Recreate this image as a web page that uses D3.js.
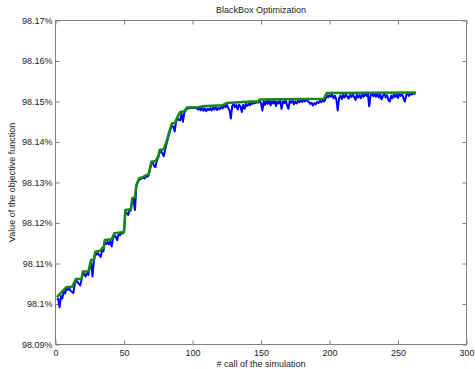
<!DOCTYPE html>
<html>
<head>
<meta charset="utf-8">
<script src="https://cdn.jsdelivr.net/npm/d3@7"></script>
<style>
    html, body { margin: 0; padding: 0; background: #fff; }
    svg { display: block; font-family: "Liberation Sans", Arial, Helvetica, sans-serif; }
    .tick text { fill: #222; font-size: 9px; }
    .tick line { stroke: #808080; }
    .label { fill: #222; font-size: 9px; }
</style>
</head>
<body>
<svg id="chart" width="475" height="369"></svg>
<script>
    // ================================================================
    // Data
    // ================================================================

    var xTicks = [0, 50, 100, 150, 200, 250, 300];
    var yTicks = [98.09, 98.10, 98.11, 98.12, 98.13, 98.14, 98.15, 98.16, 98.17];

    // objective value at each call of the simulation (call 1..263)
    var currentValues = [
        98.1014, 98.1012, 98.0992, 98.1020, 98.1014, 98.1030, 98.1026, 98.1038, 98.1035, 98.1038,
        98.1033, 98.1030, 98.1027, 98.1048, 98.1058, 98.1055, 98.1050, 98.1046, 98.1060, 98.1076,
        98.1074, 98.1068, 98.1077, 98.1072, 98.1090, 98.1105, 98.1068, 98.1105, 98.1125, 98.1122,
        98.1126, 98.1120, 98.1116, 98.1134, 98.1130, 98.1152, 98.1148, 98.1154, 98.1147, 98.1155,
        98.1142, 98.1162, 98.1170, 98.1166, 98.1158, 98.1172, 98.1170, 98.1176, 98.1174, 98.1178,
        98.1228, 98.1225, 98.1220, 98.1230, 98.1231, 98.1255, 98.1258, 98.1232, 98.1290, 98.1300,
        98.1306, 98.1308, 98.1310, 98.1312, 98.1310, 98.1316, 98.1314, 98.1318, 98.1332, 98.1348,
        98.1350, 98.1340, 98.1338, 98.1355, 98.1362, 98.1375, 98.1378, 98.1372, 98.1365, 98.1380,
        98.1395, 98.1408, 98.1420, 98.1432, 98.1440, 98.1438, 98.1426, 98.1450, 98.1458, 98.1455,
        98.1454, 98.1470, 98.1450, 98.1472, 98.1478, 98.1482, 98.1484, 98.1483, 98.1485, 98.1484,
        98.1485, 98.1484, 98.1485, 98.1480, 98.1485, 98.1478, 98.1486, 98.1477, 98.1483, 98.1476,
        98.1482, 98.1479, 98.1484, 98.1478, 98.1485, 98.1480, 98.1486, 98.1479, 98.1484, 98.1481,
        98.1487, 98.1483, 98.1490, 98.1486, 98.1492, 98.1485, 98.1478, 98.1458, 98.1489, 98.1494,
        98.1486, 98.1491, 98.1480, 98.1492, 98.1488, 98.1474, 98.1492, 98.1482, 98.1494, 98.1489,
        98.1495, 98.1491, 98.1497, 98.1494, 98.1498, 98.1496, 98.1499, 98.1497, 98.1502, 98.1496,
        98.1478, 98.1500, 98.1492, 98.1502, 98.1494, 98.1503, 98.1490, 98.1501, 98.1495, 98.1503,
        98.1489, 98.1500, 98.1495, 98.1502, 98.1482, 98.1500, 98.1496, 98.1503, 98.1491, 98.1482,
        98.1501, 98.1497, 98.1503, 98.1493, 98.1500, 98.1495, 98.1502, 98.1498, 98.1504, 98.1499,
        98.1503, 98.1500, 98.1505, 98.1501, 98.1499, 98.1494, 98.1497, 98.1490, 98.1496, 98.1493,
        98.1499, 98.1496, 98.1502, 98.1498, 98.1503, 98.1500, 98.1505, 98.1515, 98.1510, 98.1516,
        98.1512, 98.1517, 98.1508, 98.1514, 98.1505, 98.1478, 98.1508, 98.1515, 98.1506, 98.1517,
        98.1510, 98.1518, 98.1512, 98.1507, 98.1516, 98.1511, 98.1518, 98.1512, 98.1504, 98.1517,
        98.1510, 98.1516, 98.1508, 98.1518, 98.1512, 98.1519, 98.1514, 98.1518, 98.1488, 98.1516,
        98.1519, 98.1513, 98.1518, 98.1512, 98.1519, 98.1510, 98.1517, 98.1505, 98.1514, 98.1519,
        98.1510, 98.1516, 98.1503, 98.1500, 98.1515, 98.1508, 98.1518, 98.1511, 98.1517, 98.1509,
        98.1519, 98.1514, 98.1518, 98.1508, 98.1500, 98.1516, 98.1519, 98.1514, 98.1520, 98.1517,
        98.1521, 98.1519, 98.1521
    ];

    // best value found so far, as the corners of the green curve
    var bestCalls = [1, 8, 12, 15, 19, 20, 24, 26, 28, 29, 33, 34, 35, 36, 41, 43, 50, 51, 55, 56,
        58, 59, 61, 64, 68, 70, 73, 75, 76, 79, 81, 83, 85, 87, 89, 91, 94, 96, 104, 107,
        122, 125, 143, 148, 149, 196, 198, 263];
    var bestValues = [98.1017, 98.1042, 98.1042, 98.1062, 98.1062, 98.1080, 98.1080, 98.1109, 98.1110, 98.1129,
        98.1132, 98.1138, 98.1138, 98.1158, 98.1160, 98.1175, 98.1178, 98.1232, 98.1234, 98.1261,
        98.1263, 98.1294, 98.1310, 98.1314, 98.1321, 98.1351, 98.1353, 98.1365, 98.1380, 98.1382,
        98.1400, 98.1425, 98.1446, 98.1446, 98.1462, 98.1474, 98.1476, 98.1485, 98.1486, 98.1488,
        98.1491, 98.1496, 98.1500, 98.1500, 98.1505, 98.1507, 98.1521, 98.1522];

    // ================================================================
    // Layout
    // ================================================================

    var plotLeft = 55.5, plotRight = 466.5, plotTop = 20.5, plotBottom = 344.5;

    var svg = d3.select('#chart');

    var x = d3.scaleLinear().domain([0, 300]).range([plotLeft, plotRight]);
    var y = d3.scaleLinear().domain([98.09, 98.17]).range([plotBottom, plotTop]);

    var fmtY = d3.format('.4~r');
    function yLabel(v) { return fmtY(v) + '%'; }

    // axes with inward ticks on all four sides
    var axisL = svg.append('g').attr('transform', 'translate(' + plotLeft + ',0)')
        .call(d3.axisLeft(y).tickValues(yTicks).tickSize(-4).tickPadding(3).tickFormat(yLabel));
    var axisB = svg.append('g').attr('transform', 'translate(0,' + plotBottom + ')')
        .call(d3.axisBottom(x).tickValues(xTicks).tickSize(-4).tickPadding(5).tickFormat(d3.format('d')));
    var axisT = svg.append('g').attr('transform', 'translate(0,' + plotTop + ')')
        .call(d3.axisTop(x).tickValues(xTicks).tickSize(-4).tickFormat(''));
    var axisR = svg.append('g').attr('transform', 'translate(' + plotRight + ',0)')
        .call(d3.axisRight(y).tickValues(yTicks).tickSize(-4).tickFormat(''));

    [axisL, axisB, axisT, axisR].forEach(function(a) {
        a.select('.domain').remove();
        a.attr('font-family', null).attr('font-size', null);
    });

    // box around the plot area
    svg.append('rect')
        .attr('x', plotLeft).attr('y', plotTop)
        .attr('width', plotRight - plotLeft).attr('height', plotBottom - plotTop)
        .attr('fill', 'none')
        .attr('stroke', '#808080')
        .attr('stroke-width', 1);

    // ================================================================
    // Series
    // ================================================================

    var line = d3.line()
        .x(function(d) { return x(d[0]); })
        .y(function(d) { return y(d[1]); });

    var currentPts = currentValues.map(function(v, i) { return [i + 1, v]; });
    var bestPts = bestCalls.map(function(c, i) { return [c, bestValues[i]]; });

    svg.append('path')
        .datum(currentPts)
        .attr('d', line)
        .attr('fill', 'none')
        .attr('stroke', '#0000ff')
        .attr('stroke-width', 2)
        .attr('stroke-linejoin', 'round');

    svg.append('path')
        .datum(bestPts)
        .attr('d', line)
        .attr('fill', 'none')
        .attr('stroke', '#128a12')
        .attr('stroke-width', 2.5)
        .attr('stroke-linejoin', 'round');

    // ================================================================
    // Text
    // ================================================================

    svg.append('text')
        .attr('class', 'label')
        .attr('x', (plotLeft + plotRight) / 2).attr('y', 13)
        .attr('text-anchor', 'middle')
        .text('BlackBox Optimization');

    svg.append('text')
        .attr('class', 'label')
        .attr('x', (plotLeft + plotRight) / 2).attr('y', 367)
        .attr('text-anchor', 'middle')
        .text('# call of the simulation');

    svg.append('text')
        .attr('class', 'label')
        .attr('transform', 'translate(15,' + ((plotTop + plotBottom) / 2) + ') rotate(-90)')
        .attr('text-anchor', 'middle')
        .text('Value of the objective function');
</script>
</body>
</html>
